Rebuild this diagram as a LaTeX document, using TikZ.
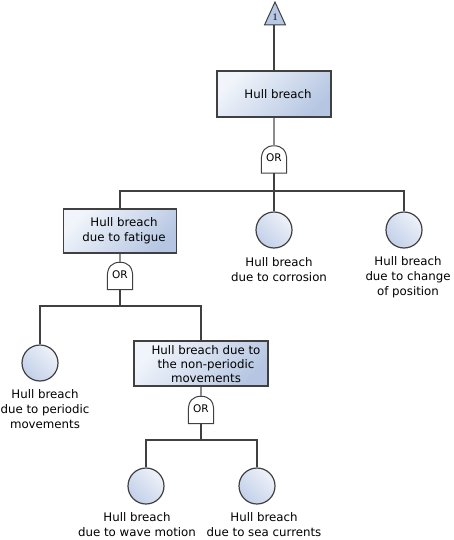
\documentclass[tikz,border=0pt]{standalone}
\usepackage{fontspec}
\setmainfont{DejaVu Sans}
\newfontfamily\numfont{Liberation Serif}
\usetikzlibrary{calc}
\definecolor{linec}{HTML}{404040}
\definecolor{lightline}{HTML}{8C8C8C}
\definecolor{boxL}{HTML}{F1F5FB}
\definecolor{boxR}{HTML}{B6C6E2}
\definecolor{circD}{HTML}{C2D0E9}
\definecolor{circL}{HTML}{EEF2F9}
\definecolor{triF}{HTML}{B7C8E4}
\tikzset{
  evbox/.style={rectangle, draw=linec, line width=1.2pt, inner sep=0pt,
    left color=boxL, right color=boxR, shading angle=45},
  evcirc/.style={circle, draw=linec, line width=1.2pt, inner sep=0pt, minimum size=36pt,
    top color=circL, bottom color=circD, shading angle=-45},
  evtext/.style={align=center, inner sep=0pt, font=\fontsize{11.8}{15}\selectfont, text=black},
  gatebox/.style={rectangle, draw=none, inner sep=0pt, minimum width=25pt, minimum height=27pt},
  gateline/.style={draw=linec, line width=1pt, fill=white},
  gatetext/.style={inner sep=0pt, font=\fontsize{10.5}{12}\selectfont},
  conn/.style={draw=linec, line width=1.1pt},
  connlight/.style={draw=lightline, line width=1.1pt}
}
\newcommand{\mygate}[2]{%
  \node[gatebox] (#1) at (#2) {};
  \draw[gateline] (#1.south west) -- ++(0,-13) .. controls +(0,-10) and +(-8,0) .. (#1.north)
     .. controls +(8,0) and +(0,-10) .. ($(#1.south east)+(0,-13)$) -- (#1.south east) -- cycle;
  \node[gatetext] (#1t) at ($(#1.center)+(0,-1.5)$) {OR};
}
\begin{document}
\begin{tikzpicture}[x=1pt,y=-1pt]
\useasboundingbox (0,0) rectangle (454,540);
% top transfer triangle
\draw[draw=linec, line width=1pt, fill=triF] (275,2) -- (285.5,25) -- (264.5,25) -- cycle;
\coordinate (tri) at (274,25);
\node[inner sep=0pt, font=\numfont\fontsize{10}{11}\selectfont] (trit) at (275,17) {1};
% top event
\node[evbox, minimum width=114pt, minimum height=46pt] (b1) at (274,94) {};
\node[evtext] (b1t) at (278,94) {Hull breach};
\mygate{g1}{274,159.5}
% level 2
\node[evbox, minimum width=113pt, minimum height=44pt] (b2) at (120,231) {};
\node[evtext] (b2t) at (124,231) {Hull breach\\due to fatigue};
\node[evcirc] (c1) at (274,230) {};
\node[evtext] (c1t) at (279,270) {Hull breach\\due to corrosion};
\node[evcirc] (c2) at (404,230) {};
\node[evtext] (c2t) at (408,277.5) {Hull breach\\due to change\\of position};
\mygate{g2}{120,276}
% level 3
\node[evcirc] (c3) at (40,363) {};
\node[evtext] (c3t) at (45,409) {Hull breach\\due to periodic\\movements};
\node[evbox, minimum width=134pt, minimum height=45pt] (b3) at (201,363.5) {};
\node[evtext, font=\fontsize{11.8}{14}\selectfont] (b3t) at (206,364) {Hull breach due to\\the non-periodic\\movements};
\mygate{g3}{201,410}
% level 4
\node[evcirc] (c4) at (146,486) {};
\node[evtext] (c4t) at (137,525) {Hull breach\\due to wave motion};
\node[evcirc] (c5) at (257,486) {};
\node[evtext] (c5t) at (264,525) {Hull breach\\due to sea currents};
% junctions
\coordinate (j1) at (274,191);
\coordinate (j2) at (120,306);
\coordinate (j3) at (201,440);
% connectors
\draw[conn] (tri) -- (b1.north);
\draw[connlight] (b1.south) -- (g1.north);
\draw[conn] (g1.south) -- (j1);
\draw[conn] (b2.north) |- (j1) -| (c2.north);
\draw[conn] (j1) -- (c1.north);
\draw[connlight] (b2.south) -- (g2.north);
\draw[conn] (g2.south) -- (j2);
\draw[conn] (c3.north) |- (j2) -| (b3.north);
\draw[connlight] (b3.south) -- (g3.north);
\draw[conn] (g3.south) -- (j3);
\draw[conn] (c4.north) |- (j3) -| (c5.north);
\end{tikzpicture}
\end{document}
